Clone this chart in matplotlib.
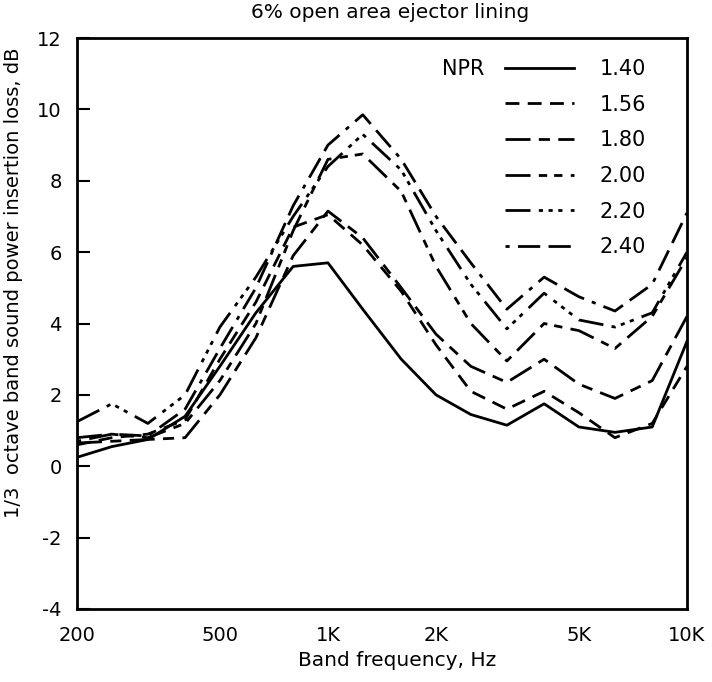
import matplotlib
matplotlib.use("Agg")
import matplotlib.pyplot as plt

plt.rcParams['font.family'] = ['DejaVu Sans']

freqs = [200, 250, 315, 400, 500, 630, 800, 1000, 1250, 1600, 2000, 2500,
         3150, 4000, 5000, 6300, 8000, 10000]

npr_140 = [0.25, 0.55, 0.75, 1.4, 2.8, 4.3, 5.6, 5.7, 4.4, 3.0, 2.0, 1.45,
           1.15, 1.75, 1.1, 0.95, 1.1, 3.5]
npr_156 = [0.6, 0.8, 0.9, 1.3, 3.0, 4.6, 6.7, 7.05, 6.2, 4.9, 3.4, 2.1,
           1.6, 2.1, 1.5, 0.8, 1.2, 2.8]
npr_180 = [0.65, 0.7, 0.75, 0.8, 2.0, 3.6, 5.9, 7.15, 6.4, 5.0, 3.7, 2.8,
           2.35, 3.0, 2.3, 1.9, 2.4, 4.2]
npr_200 = [0.8, 0.9, 0.8, 1.2, 2.4, 4.0, 6.6, 8.6, 8.75, 7.7, 5.6, 4.0,
           2.95, 4.0, 3.8, 3.3, 4.2, 5.85]
npr_220 = [1.25, 1.75, 1.2, 2.0, 3.9, 5.3, 7.0, 8.4, 9.3, 8.3, 6.6, 5.1,
           3.85, 4.85, 4.1, 3.9, 4.3, 6.0]
npr_240 = [0.7, 0.9, 0.85, 1.6, 3.3, 5.0, 7.3, 9.0, 9.85, 8.6, 7.0, 5.7,
           4.4, 5.3, 4.75, 4.35, 5.1, 7.1]

series = [npr_140, npr_156, npr_180, npr_200, npr_220, npr_240]
labels = ['1.40', '1.56', '1.80', '2.00', '2.20', '2.40']
styles = ['-',
          (0, (5, 3)),
          (0, (9, 3, 4, 3)),
          (0, (9, 3, 3, 2.5, 3, 3)),
          (0, (9, 3, 1.5, 2, 1.5, 2, 1.5, 3)),
          (0, (1.5, 3, 8, 3, 8, 3))]

xticks = [200, 500, 1000, 2000, 5000, 10000]
xticklabels = ['200', '500', '1K', '2K', '5K', '10K']
yticks = [-4, -2, 0, 2, 4, 6, 8, 10, 12]
yticklabels = ['-4', '-2', '0', '2', '4', '6', '8', '10', '12']

fig = plt.figure(figsize=(7.12, 6.82), dpi=100)
ax = fig.add_axes([77/712, 1-609/682, 610/712, 571/682])

handles = []
for vals, ls in zip(series, styles):
    h, = ax.plot(freqs, vals, color='black', linewidth=2.0, linestyle=ls)
    handles.append(h)

ax.set_xscale('log')
ax.set_xlim(200, 10000)
ax.set_ylim(-4, 12)
ax.set_xticks(xticks)
ax.set_xticklabels(xticklabels)
ax.xaxis.set_minor_locator(matplotlib.ticker.NullLocator())
ax.set_yticks(yticks)
ax.set_yticklabels(yticklabels)
ax.tick_params(axis='y', direction='in', length=9, width=1.5, labelsize=14, pad=11)
ax.tick_params(axis='x', length=0, labelsize=14, pad=12)
for s in ax.spines.values():
    s.set_linewidth(2.0)

ax.set_xlabel('Band frequency, Hz', fontsize=14.5)
ax.xaxis.set_label_coords((397-77)/610, (609-651)/571)
ax.set_ylabel('1/3  octave band sound power insertion loss, dB', fontsize=14)
ax.yaxis.set_label_coords((23-77)/610, (609-283)/571)
fig.text(390/712, 1-12/682, '6% open area ejector lining', fontsize=14.5,
         ha='center', va='center')

leg = ax.legend(handles, labels, loc='upper left', bbox_to_anchor=((505-77)/610, (609-59)/571),
                frameon=False, fontsize=15, handlelength=3.3, handletextpad=1.25,
                labelspacing=0.75, borderaxespad=0, borderpad=0)
ax.text((463-77)/610, (609-69)/571, 'NPR', transform=ax.transAxes, fontsize=15,
        ha='center', va='center')

fig.savefig('out.png', dpi=100)
